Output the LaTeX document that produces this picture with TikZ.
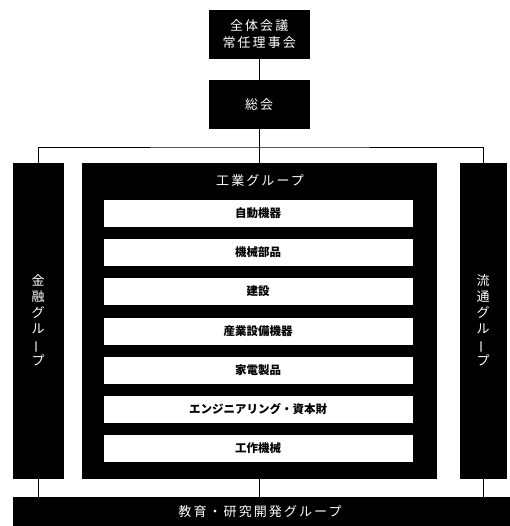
\documentclass[tikz,border=0pt]{standalone}
\usepackage{fontspec}
\newfontfamily\cjk{Noto Sans CJK JP}
\newfontfamily\cjkw[LetterSpace=16]{Noto Sans CJK JP}
\newcommand{\vbar}{\rotatebox[origin=c]{90}{ー}}
\begin{document}
\begin{tikzpicture}[x=1pt,y=-1pt,
  blk/.style={fill=black, draw=black, anchor=north west, inner sep=0pt, text=white,
    font=\cjkw\fontsize{13}{17}\selectfont},
  wbox/.style={fill=white, draw=black, anchor=north west, inner sep=0pt,
    minimum width=310, minimum height=28, font=\cjk\bfseries\fontsize{11.5}{14}\selectfont},
  conn/.style={draw=black, line width=0.9pt},
  vtext/.style={text=white, font=\cjkw\fontsize{13}{16}\selectfont, align=center, inner sep=0pt}]
\useasboundingbox (0,0) rectangle (509,526);
\fill[white] (0,0) rectangle (509,526);
% top boxes
\node[blk, minimum width=100, minimum height=48, align=center] (zentai) at (209,10) {全体会議\\常任理事会};
\node[blk, minimum width=100, minimum height=48] (sokai) at (209,80) {総会};
% columns
\node[blk, minimum width=50, minimum height=315] (kinyu) at (13,163) {};
\node[blk, minimum width=354, minimum height=315] (kogyo) at (82,163) {};
\node[blk, minimum width=46, minimum height=315] (ryutsu) at (460,163) {};
\node[blk, minimum width=496, minimum height=29] (kyoiku) at (13,497) {};
% texts
\node[vtext, font=\cjk\fontsize{13}{16}\selectfont] (kinyut) at (kinyu.center) {金\\融\\グ\\ル\\\vbar\\プ};
\node[vtext, font=\cjk\fontsize{13}{16}\selectfont] (ryutsut) at (ryutsu.center) {流\\通\\グ\\ル\\\vbar\\プ};
\node[vtext] (kogyot) at (260,181) {工業グループ};
\node[vtext] (kyoikut) at (260,511.5) {教育・研究開発グループ};
% white boxes
\node[wbox] (b1) at (103,199) {自動機器};
\node[wbox] (b2) at (103,238) {機械部品};
\node[wbox] (b3) at (103,277) {建設};
\node[wbox] (b4) at (103,317) {産業設備機器};
\node[wbox] (b5) at (103,356) {家電製品};
\node[wbox] (b6) at (103,395) {エンジニアリング・資本財};
\node[wbox] (b7) at (103,434) {工作機械};
% connectors
\coordinate (bus) at (259,147);
\draw[conn] (zentai.south) -- (sokai.north);
\draw[conn] (sokai.south) -- (kogyo.north);
\draw[conn] (kinyu.north) |- (bus) -| (ryutsu.north);
\draw[conn] (kinyu.south) -- (kinyu.south |- kyoiku.north);
\draw[conn] (kogyo.south) -- (kogyo.south |- kyoiku.north);
\draw[conn] (ryutsu.south) -- (ryutsu.south |- kyoiku.north);
\end{tikzpicture}
\end{document}
